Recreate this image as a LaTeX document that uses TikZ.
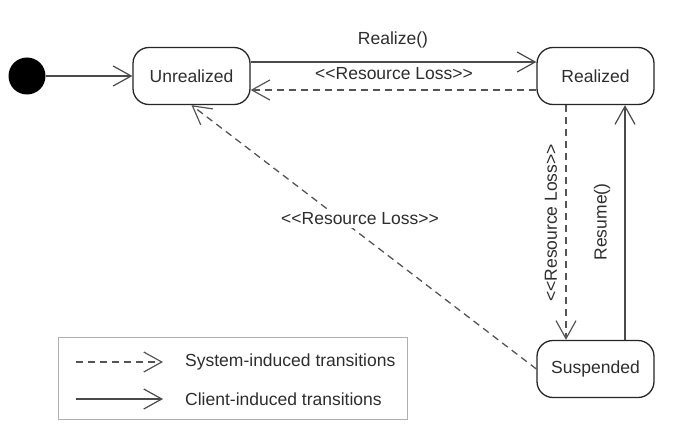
\documentclass[tikz,border=0pt]{standalone}
\usepackage{fontspec}
\setmainfont{Liberation Sans}
\usetikzlibrary{arrows.meta}
\definecolor{ink}{HTML}{2E2E2E}
\definecolor{lineg}{HTML}{4A4A4A}
\definecolor{dashg}{HTML}{555555}
\definecolor{boxg}{HTML}{B0B0B0}
\tikzset{
  every node/.style={font=\fontsize{17.5}{20}\selectfont, text=ink},
  state/.style={draw=black!85, line width=1.3pt, rounded corners=16pt,
    minimum width=117pt, minimum height=57pt, inner sep=0pt},
  vee/.style={-{Straight Barb[length=18pt,width=20pt,line width=1.2pt]}},
  client/.style={vee, draw=lineg, line width=1.3pt},
  system/.style={vee, draw=dashg, line width=1.3pt, dash pattern=on 7pt off 5pt},
  lbl/.style={inner sep=1pt}
}
\begin{document}
\begin{tikzpicture}[x=1pt,y=-1pt]
\useasboundingbox[fill=white] (0,0) rectangle (679,433);
\node[circle, fill=black, minimum size=37pt, inner sep=0pt] (init) at (27,76) {};
\node[state] (unreal) at (191.5,76) {Unrealized};
\node[state] (real) at (595.5,76) {Realized};
\node[state] (sus) at (595.5,369) {Suspended};

\draw[client] (init) -- (unreal);
\draw[client] ([yshift=14pt]unreal.east) -- ([yshift=14pt]real.west);
\draw[system] ([yshift=-14pt]real.west) -- ([yshift=-14pt]unreal.east);
\draw[system] ([xshift=-29.5pt]real.south) -- ([xshift=-29.5pt]sus.north);
\draw[client] ([xshift=29.5pt]sus.north) -- ([xshift=29.5pt]real.south);
\draw[system] (sus.west) -- (unreal.south);

\node[lbl] (l1) at (393,40) {Realize()};
\node[lbl] (l2) at (394,74) {<{}<Resource Loss>{}>};
\node[lbl, rotate=90] (l3) at (551,223) {<{}<Resource Loss>{}>};
\node[lbl, rotate=90] (l4) at (602,222) {Resume()};
\node[lbl, fill=white, inner sep=3pt] (l5) at (360,219) {<{}<Resource Loss>{}>};

\draw[boxg, line width=1pt] (58,337) rectangle (407,419);
\coordinate (s1) at (76,362);
\coordinate (s2) at (163,362);
\coordinate (c1) at (76,399);
\coordinate (c2) at (163,399);
\draw[system] (s1) -- (s2);
\draw[client] (c1) -- (c2);
\node[anchor=west, inner sep=0pt] (t1) at (185,362) {System-induced transitions};
\node[anchor=west, inner sep=0pt] (t2) at (185,399) {Client-induced transitions};
\end{tikzpicture}
\end{document}
